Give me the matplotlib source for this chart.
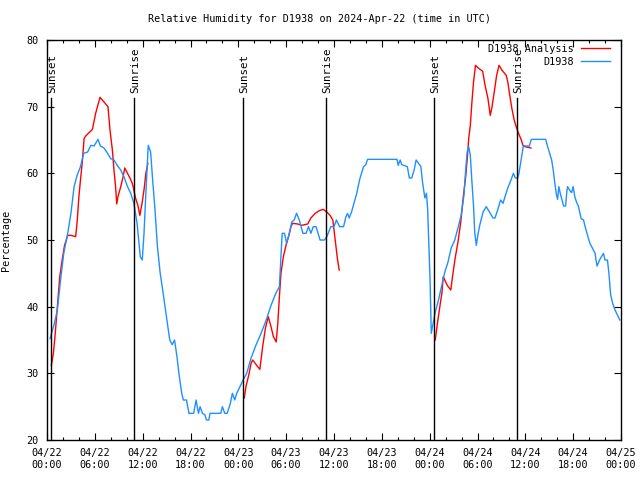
import matplotlib
matplotlib.use("Agg")
import matplotlib.pyplot as plt
import matplotlib.dates as mdates
from matplotlib.ticker import MultipleLocator
import numpy as np
import pandas as pd

START = pd.Timestamp("2024-04-22 00:00")

# observed RH (hours since 04/22 00:00 UTC, percent)
obs_hours = [0.38, 0.88, 1.3, 1.7, 2.1, 2.6, 3.0, 3.4, 3.8, 4.2, 4.6, 5.1, 5.5, 5.9, 6.4, 6.7, 7.15, 7.6,
             8.0, 8.4, 8.8, 9.25, 9.65, 10.1, 10.5, 10.9, 11.3, 11.7, 11.95, 12.17, 12.4, 12.7, 13.0, 13.25,
             13.55, 13.85, 14.2, 14.45, 14.8, 15.1, 15.4, 15.7, 16.0, 16.3, 16.6, 16.9, 17.1, 17.5, 17.8,
             18.4, 18.7, 19.0, 19.2, 19.5, 19.8, 20.0, 20.3, 20.45, 21.8, 22.0, 22.3, 22.6, 23.0, 23.25,
             23.55, 23.8, 24.2, 24.6, 25.05, 25.6, 26.2, 26.85, 27.5, 28.1, 28.7, 29.15, 29.35, 29.5, 29.8,
             30.05, 30.4, 30.7, 31.0, 31.3, 31.65, 32.1, 32.5, 32.8, 33.1, 33.4, 33.75, 34.0, 34.25, 34.8,
             35.1, 35.6, 36.0, 36.3, 36.7, 37.2, 37.5, 37.7, 37.9, 38.2, 38.5, 38.85, 39.2, 39.5, 39.7,
             40.0, 40.2, 43.9, 44.05, 44.3, 44.5, 45.2, 45.45, 45.75, 46.05, 46.3, 46.6, 46.9, 47.1, 47.4,
             47.6, 47.75, 47.9, 48.05, 48.2, 48.4, 48.7, 49.05, 49.45, 49.9, 50.3, 50.7, 51.15, 51.55,
             51.95, 52.3, 52.5, 52.7, 52.9, 53.1, 53.3, 53.5, 53.65, 53.85, 54.05, 54.3, 54.7, 55.1, 55.5,
             55.95, 56.2, 56.6, 56.9, 57.2, 57.5, 57.8, 58.2, 58.5, 58.75, 59.05, 59.2, 59.4, 59.6, 59.75,
             60.5, 60.75, 62.55, 62.75, 63.0, 63.3, 63.5, 63.7, 63.9, 64.05, 64.2, 64.4, 64.6, 64.8, 65.05,
             65.2, 65.3, 65.6, 65.8, 66.0, 66.2, 66.45, 66.65, 67.0, 67.3, 67.5, 67.85, 68.1, 68.4, 68.75,
             68.85, 69.0, 69.35, 69.8, 70.0, 70.3, 70.5, 70.7, 70.95, 71.25, 71.65, 71.85]
obs_rh = [35.2, 37.3, 39.5, 44, 48, 51, 54, 58, 59.8, 61, 63, 63.2, 64.2, 64.1, 65.1, 64.1, 63.8, 63,
          62.2, 62, 61.2, 60.5, 59.5, 58, 57, 55.5, 52.5, 47.5, 47, 51, 57, 64.2, 63.2, 59,
          54.5, 49, 45, 43, 40, 37.5, 35, 34.3, 35, 32.5, 29.5, 27, 26, 26, 24,
          24, 26, 24, 25, 24, 23.8, 23, 23, 24, 24, 25, 24, 24, 25.5, 27,
          26, 27, 28, 29, 30, 32.3, 34.2, 36, 38, 40.2, 42, 43, 47.5, 51, 51,
          49.5, 51, 52.7, 53, 54, 53, 51, 51, 52, 51, 52, 52, 51, 50, 50,
          50.5, 52, 52, 53, 52, 52, 53.5, 54, 53.3, 54.2, 55.5, 57, 59, 60.2, 61,
          61.3, 62.1, 62.1, 61.2, 62, 61.3, 61, 59.3, 59.3, 60.5, 62, 61.5, 61, 58.7, 56.3,
          57, 54.5, 49, 44, 36, 37.3, 39.2, 40.7, 42.8, 45.2, 46.7, 48.8, 50, 51.8,
          53.7, 56.7, 60.2, 63.2, 64, 62.7, 58.7, 55.2, 51.2, 49.2, 50.8, 52.3, 54.2, 55, 54.2,
          53.3, 53.3, 54.8, 56, 55.5, 56.7, 57.8, 59, 60, 59.3, 59.3, 60, 61.5, 63, 64.1,
          64.1, 65.1, 65.1, 64.2, 63.2, 62, 60.5, 58.5, 56.8, 56.1, 58, 56.9, 56, 55.1, 55.1,
          57.2, 58, 57.4, 57.1, 58, 56.5, 55.6, 55.1, 53.2, 53, 52, 50.5, 49.5, 48.8, 48,
          47.1, 46.1, 47.1, 48, 47, 47, 44.8, 41.8, 40.5, 39.5, 38.5, 38]

# analysis RH, three runs (None = gap)
ana_hours = [0.55, 0.8, 1.0, 1.2, 1.4, 1.6, 1.9, 2.2, 2.6, 3.0, 3.6, 3.8, 4.0, 4.2, 4.45, 4.65, 4.85, 5.7,
             6.1, 6.65, 7.15, 7.65, 7.9, 8.2, 8.4, 8.6, 8.75, 8.9, 9.25, 9.55, 9.75, 10.1, 10.4, 10.7,
             10.9, 11.1, 11.4, 11.65, 11.95, 12.2, 12.4, 12.65,
             18.0,
             24.75, 24.95, 25.3, 25.6, 25.8, 26.3, 26.7, 27.05, 27.4, 27.75, 28.1, 28.4, 28.75, 28.95,
             29.15, 29.35, 29.65, 30.0, 30.3, 30.6, 30.8, 31.45, 31.95, 32.7, 33.1, 33.65, 34.15, 34.65,
             35.1, 35.5, 35.85, 36.05, 36.25, 36.45, 36.65,
             42.0,
             48.7, 48.95, 49.25, 49.55, 49.7, 50.2, 50.65, 50.9, 51.2, 51.55, 51.9, 52.2, 52.5, 52.75,
             52.9, 53.1, 53.3, 53.5, 53.75, 54.1, 54.65, 54.95, 55.3, 55.6, 55.8, 56.1, 56.4, 56.7, 57.05,
             57.6, 57.8, 58.05, 58.3, 58.6, 58.85, 59.15, 59.5, 59.7, 59.95, 60.7]
ana_rh = [31.2, 33, 35.5, 38.5, 41.5, 44.5, 47, 49.2, 50.7, 50.7, 50.5, 53, 56.5, 59, 62, 65.2, 65.6, 66.6,
          69, 71.4, 70.7, 70, 66.5, 63.5, 60.5, 58, 55.4, 56.5, 58, 59.5, 60.8, 60, 59.3, 58.5,
          57.5, 56.3, 55.2, 53.7, 55.7, 57.8, 60, 61.5,
          None,
          26.3, 28, 29.7, 31.5, 32, 31.2, 30.6, 34, 36.8, 38.5, 37, 35.5, 34.7, 37.5,
          41.5, 45, 47.5, 49.3, 50.5, 52, 52.5, 52.4, 52.2, 52.4, 53.3, 54, 54.4, 54.6,
          54.2, 53.7, 53, 51, 49, 47, 45.5,
          None,
          35, 37.3, 39.8, 42.2, 44.5, 43.2, 42.5, 44.8, 47.3, 49.7, 52.7, 56.3, 59.3, 62.7,
          65.3, 67.2, 70.7, 73.7, 76.2, 75.8, 75.3, 73.2, 71.3, 68.7, 69.8, 72.2, 74.7, 76.2, 75.5,
          74.7, 73.7, 71.7, 69.8, 68, 67, 66, 65, 64.2, 64, 63.8]

# sun events (hours since start)
event_hours = [0.52, 10.9, 24.55, 35.0, 48.55, 59.0]
event_names = ["Sunset", "Sunrise", "Sunset", "Sunrise", "Sunset", "Sunrise"]


def to_time(hours):
    return START + pd.to_timedelta(hours, unit="h")


FONT = "DejaVu Sans Mono"
FS = 7.3
plt.rcParams["font.family"] = FONT
plt.rcParams["font.size"] = FS

fig = plt.figure(figsize=(6.4, 4.8), dpi=100)
ax = fig.add_axes([47 / 640, 40 / 480, 574 / 640, 400 / 480])

ax.plot(to_time(ana_hours), np.array(ana_rh, dtype=float), color="#ff0000", lw=1.0, label="D1938 Analysis")
ax.plot(to_time(obs_hours), obs_rh, color="#1e90ff", lw=1.0, label="D1938")

ax.set_ylim(20, 80)
ax.set_xlim(to_time(0), to_time(72))

for h, name in zip(event_hours, event_names):
    t = to_time(h)
    ax.axvline(t, ymin=0, ymax=(71.3 - 20) / 60, color="black", lw=1.0)
    ax.annotate(name, xy=(mdates.date2num(t), 72.0), xytext=(1, 0), textcoords="offset points",
                rotation=90, ha="center", va="bottom", fontsize=7.8)

ax.xaxis.set_major_locator(mdates.HourLocator(byhour=[0, 6, 12, 18]))
ax.xaxis.set_minor_locator(mdates.HourLocator(byhour=range(0, 24, 2)))
ax.xaxis.set_major_formatter(mdates.DateFormatter("%m/%d\n%H:%M"))
ax.yaxis.set_major_locator(MultipleLocator(10))

ax.tick_params(which="both", direction="in", top=True, right=True, labelsize=FS)
ax.tick_params(which="major", length=5, width=0.8, pad=6)
ax.tick_params(which="minor", length=2.5, width=0.8)
ax.tick_params(axis="y", pad=6)
for sp in ax.spines.values():
    sp.set_linewidth(1.0)

ax.set_ylabel("Percentage", fontsize=FS)
ax.yaxis.set_label_coords((11 - 47) / 574, 0.5)
fig.text(0.5, 1 - 19 / 480, "Relative Humidity for D1938 on 2024-Apr-22 (time in UTC)",
         ha="center", va="center", fontsize=FS)

ax.legend(loc="upper right", bbox_to_anchor=(0.981, 0.99), frameon=False, markerfirst=False,
          borderpad=0, borderaxespad=0, handlelength=2.9, handletextpad=0.7, labelspacing=0.25,
          fontsize=FS)

fig.savefig("out.png", dpi=100)
